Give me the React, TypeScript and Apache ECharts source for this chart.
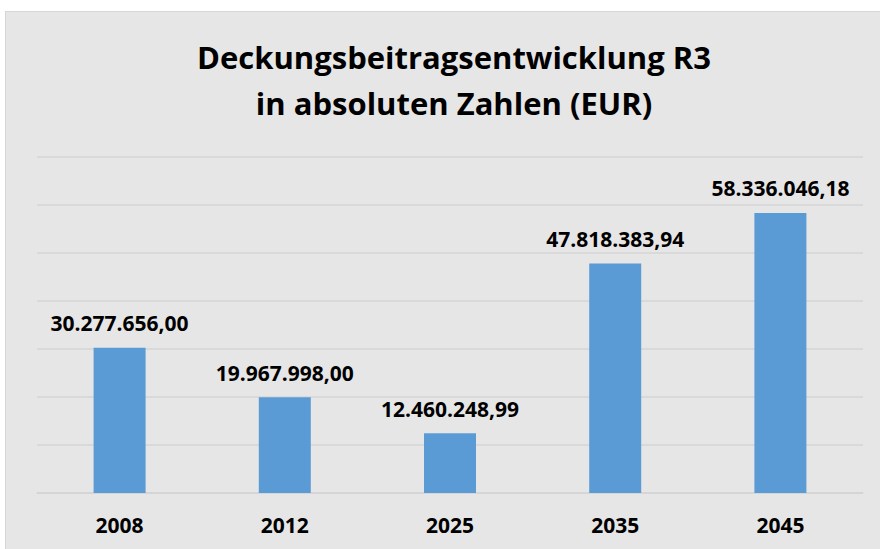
import React, { useEffect, useRef } from "react";
import * as echarts from "echarts";

const categories = ["2008", "2012", "2025", "2035", "2045"];
const values = [30277656.0, 19967998.0, 12460248.99, 47818383.94, 58336046.18];
const titleLines = ["Deckungsbeitragsentwicklung R3", "in absoluten Zahlen (EUR)"];
const yMin = 0;
const yMax = 70000000;
const yInterval = 10000000;

function formatDE(v: number): string {
  const fixed = v.toFixed(2);
  const [intPart, dec] = fixed.split(".");
  const withDots = intPart.replace(/\B(?=(\d{3})+(?!\d))/g, ".");
  return withDots + "," + dec;
}

const FONT = "'Open Sans', 'DejaVu Sans', sans-serif";

export default function App() {
  const ref = useRef<HTMLDivElement>(null);
  useEffect(() => {
    if (!ref.current) return;
    const chart = echarts.init(ref.current, undefined, { renderer: "svg" });
    chart.setOption({
      animation: false,
      backgroundColor: "#e7e6e6",
      textStyle: { fontFamily: FONT },
      graphic: [
        {
          type: "text",
          x: 448,
          y: 45,
          style: {
            text: titleLines[0],
            fontFamily: FONT,
            fontSize: 31,
            fontWeight: "bold",
            fill: "#000000",
            textAlign: "center",
            textVerticalAlign: "middle",
          },
        },
        {
          type: "text",
          x: 448,
          y: 91,
          style: {
            text: titleLines[1],
            fontFamily: FONT,
            fontSize: 31,
            fontWeight: "bold",
            fill: "#000000",
            textAlign: "center",
            textVerticalAlign: "middle",
          },
        },
      ],
      grid: { left: 31, right: 17, top: 145, bottom: 56, containLabel: false },
      xAxis: {
        type: "category",
        data: categories,
        axisLine: { show: true, lineStyle: { color: "#d4d4d4", width: 1.5 } },
        axisTick: { show: false },
        axisLabel: {
          margin: 21,
          fontFamily: FONT,
          fontSize: 21,
          fontWeight: "bold",
          color: "#000000",
        },
        splitLine: { show: false },
      },
      yAxis: {
        type: "value",
        min: yMin,
        max: yMax,
        interval: yInterval,
        axisLine: { show: false },
        axisTick: { show: false },
        axisLabel: { show: false },
        splitLine: { show: true, lineStyle: { color: "#d4d4d4", width: 1.5 } },
      },
      series: [
        {
          type: "bar",
          data: values,
          barWidth: 52,
          itemStyle: { color: "#5b9bd5" },
          label: {
            show: true,
            position: "top",
            distance: 14,
            fontFamily: FONT,
            fontSize: 21,
            fontWeight: "bold",
            color: "#000000",
            formatter: (p: any) => formatDE(p.value),
          },
        },
      ],
    });
    return () => chart.dispose();
  }, []);
  return (
    <div style={{ position: "fixed", left: 0, top: 0, width: 880, height: 549, background: "#ffffff" }}>
      <div
        style={{
          position: "absolute",
          left: 5,
          top: 11,
          width: 875,
          height: 538,
          borderLeft: "1px solid #d6d6d6",
          borderTop: "1px solid #d6d6d6",
          boxSizing: "border-box",
        }}
      >
        <div ref={ref} style={{ width: 874, height: 537 }} />
      </div>
    </div>
  );
}
